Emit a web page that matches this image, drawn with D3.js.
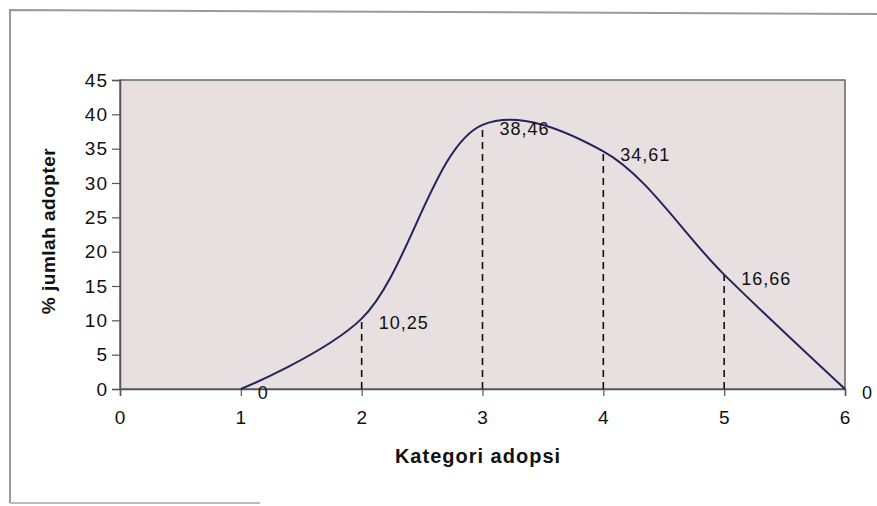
<!DOCTYPE html>
<html>
<head>
<meta charset="utf-8">
<script src="https://cdnjs.cloudflare.com/ajax/libs/d3/7.8.5/d3.min.js"></script>
<style>
  body { margin: 0; background: #fff; }
  svg text { font-family: "Liberation Sans", Arial, sans-serif; fill: #111; }
</style>
</head>
<body>
<div class="content"></div>
<script>
var categories = [1, 2, 3, 4, 5, 6]
var adopters = [0, 10.25, 38.46, 34.61, 16.66, 0]
var pointLabels = ['0', '10,25', '38,46', '34,61', '16,66', '0']
var xTicks = [0, 1, 2, 3, 4, 5, 6]
var yTicks = [0, 5, 10, 15, 20, 25, 30, 35, 40, 45]

var width = 877
var height = 506
var margin = { top: 80, right: 32, bottom: 117, left: 120 }

var svg = d3.select('.content').append('svg')
    .attr('width', width)
    .attr('height', height)

// scanned page frame
svg.append('path')
    .attr('d', 'M10,503 L10,10 L877,14')
    .style('fill', 'none')
    .style('stroke', '#9a9a9a')
    .style('stroke-width', 2)
svg.append('line')
    .attr('x1', 10).attr('x2', 260).attr('y1', 503).attr('y2', 503)
    .style('stroke', '#bbb')
    .style('stroke-width', 2)

var x = d3.scaleLinear()
    .domain([0, 6])
    .range([margin.left, width - margin.right])

var y = d3.scaleLinear()
    .domain([0, 45])
    .range([height - margin.bottom, margin.top])

var data = categories.map(function(c, i) {
    return { x: c, y: adopters[i], label: pointLabels[i] }
})

svg.append('rect')
    .attr('x', x(0))
    .attr('y', y(45))
    .attr('width', x(6) - x(0))
    .attr('height', y(0) - y(45))
    .style('fill', '#e7dfe0')
    .style('stroke', '#666')
    .style('stroke-width', 1.5)

svg.append('g')
    .attr('transform', 'translate(' + x(0) + ',0)')
    .call(d3.axisLeft(y).tickValues(yTicks).tickFormat(d3.format('d')).tickSize(8).tickPadding(4))
svg.append('g')
    .attr('transform', 'translate(0,' + y(0) + ')')
    .call(d3.axisBottom(x).tickValues(xTicks).tickFormat(d3.format('d')).tickSize(7).tickPadding(15))

svg.selectAll('.domain').style('stroke', '#555').style('stroke-width', 1.5)
svg.selectAll('.tick line').style('stroke', '#555').style('stroke-width', 1.2)
svg.selectAll('.tick text')
    .style('font-size', '19px')
    .style('letter-spacing', '1px')
    .style('fill', '#111')

// dashed drop lines
svg.append('g')
    .selectAll('line')
    .data(data.filter(function(d) { return d.y > 0 }))
    .enter().append('line')
    .attr('x1', function(d) { return x(d.x) })
    .attr('x2', function(d) { return x(d.x) })
    .attr('y1', y(0))
    .attr('y2', function(d) { return y(d.y) })
    .style('stroke', '#111')
    .style('stroke-width', 1.6)
    .style('stroke-dasharray', '7,5')

var line = d3.line()
    .x(function(d) { return x(d.x) })
    .y(function(d) { return y(d.y) })
    .curve(d3.curveCatmullRom.alpha(0.5))

svg.append('path')
    .datum(data)
    .attr('d', line)
    .style('fill', 'none')
    .style('stroke', '#23235e')
    .style('stroke-width', 2)

svg.append('g')
    .selectAll('text')
    .data(data)
    .enter().append('text')
    .attr('x', function(d) { return x(d.x) + 17 })
    .attr('y', function(d) { return y(d.y) + 10 })
    .style('font-size', '18px')
    .style('letter-spacing', '1px')
    .text(function(d) { return d.label })

svg.append('text')
    .attr('x', 478)
    .attr('y', 463)
    .attr('text-anchor', 'middle')
    .style('font-size', '20px')
    .style('font-weight', 'bold')
    .style('letter-spacing', '1px')
    .text('Kategori adopsi')

svg.append('text')
    .attr('transform', 'translate(55,231) rotate(-90)')
    .attr('text-anchor', 'middle')
    .style('font-size', '19px')
    .style('font-weight', 'bold')
    .style('letter-spacing', '0.5px')
    .text('% jumlah adopter')
</script>
</body>
</html>
